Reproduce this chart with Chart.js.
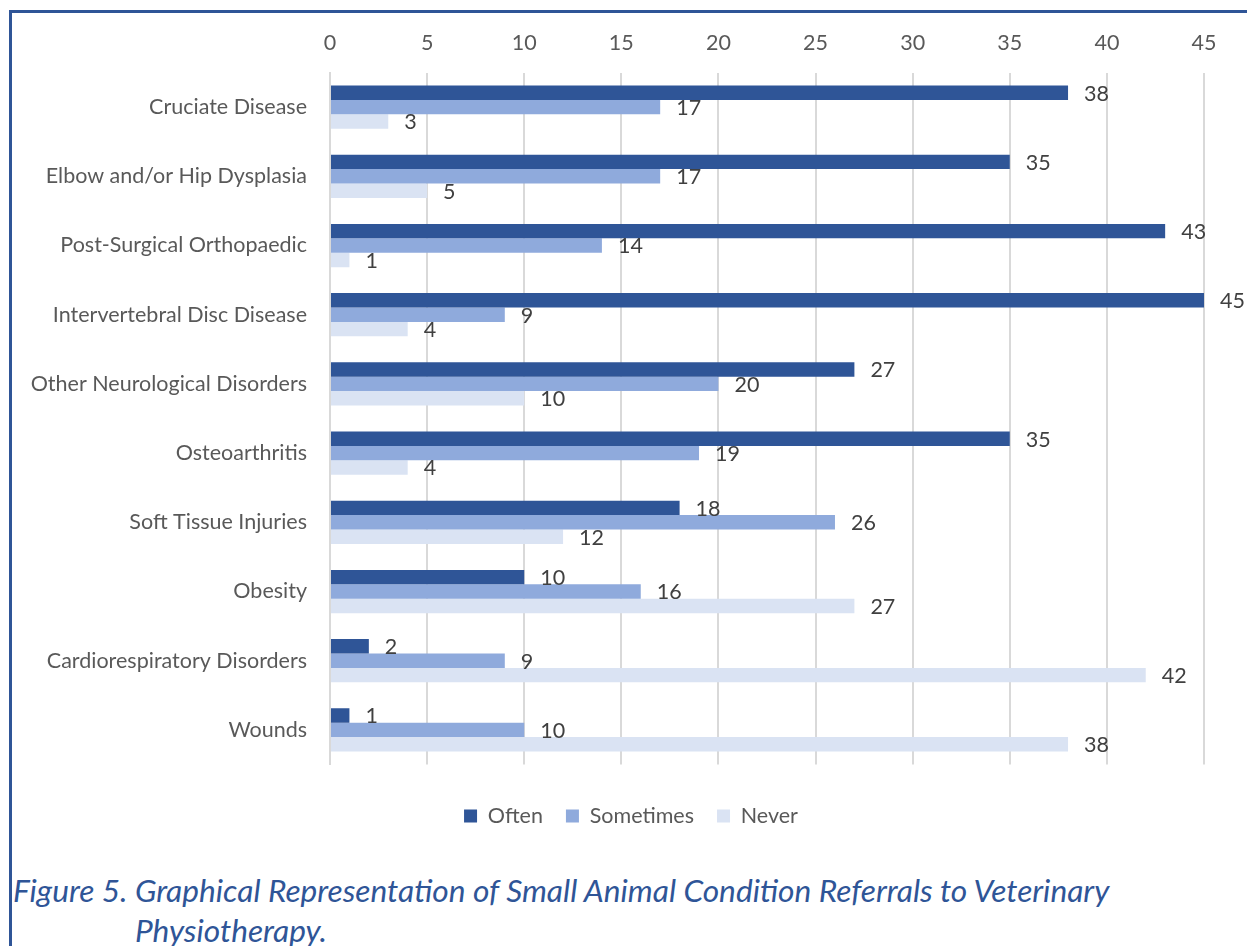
<!DOCTYPE html>
<html><head><meta charset="utf-8">
<script src="https://cdn.jsdelivr.net/npm/chart.js@4/dist/chart.umd.min.js"></script>
<style>
html,body{margin:0;padding:0;background:#fff;}
body{width:1247px;height:946px;position:relative;overflow:hidden;}
#frameTop{position:absolute;left:9px;top:10px;width:1238px;height:3px;background:#2F5597;}
#frameLeft{position:absolute;left:9px;top:10px;width:3px;height:936px;background:#2F5597;}
#wrap{position:absolute;left:0;top:0;width:1247px;height:860px;}
.cap{position:absolute;font-family:Lato,sans-serif;font-style:italic;font-size:30px;color:#2F5597;white-space:nowrap;line-height:34px;transform-origin:0 50%;transform:scaleX(1.055);}
</style></head>
<body>
<div id="wrap"><canvas id="c" width="1247" height="860"></canvas></div>
<div id="frameTop"></div><div id="frameLeft"></div>
<div class="cap" style="left:13px;top:873px;">Figure 5. Graphical Representation of Small Animal Condition Referrals to Veterinary</div>
<div class="cap" style="left:135px;top:913px;">Physiotherapy.</div>
<script>
const categories = ["Cruciate Disease","Elbow and/or Hip Dysplasia","Post-Surgical Orthopaedic","Intervertebral Disc Disease","Other Neurological Disorders","Osteoarthritis","Soft Tissue Injuries","Obesity","Cardiorespiratory Disorders","Wounds"];
const often = [38,35,43,45,27,35,18,10,2,1];
const sometimes = [17,17,14,9,20,19,26,16,9,10];
const never = [3,5,1,4,10,4,12,27,42,38];
const seriesNames = ["Often","Sometimes","Never"];
const xMin = 0, xMax = 45, xStep = 5;

const FS = 21.5;
const labelPlugin = {
  id: 'barLabels',
  afterLayout(chart) {
    // centre the legend over the plot area rather than the whole canvas
    if (chart.legend) { chart.legend.left += 58; }
  },
  afterDatasetsDraw(chart) {
    const ctx = chart.ctx;
    ctx.save();
    ctx.font = FS + 'px Lato, sans-serif';
    ctx.fillStyle = '#404040';
    ctx.textBaseline = 'middle';
    ctx.textAlign = 'left';
    chart.data.datasets.forEach((ds, i) => {
      const meta = chart.getDatasetMeta(i);
      meta.data.forEach((el, j) => {
        ctx.fillText(String(ds.data[j]), el.x + 16, el.y + 1);
      });
    });
    ctx.restore();
  }
};

new Chart(document.getElementById('c'), {
  type: 'bar',
  data: {
    labels: categories,
    datasets: [
      {label: seriesNames[0], data: often, backgroundColor: '#2F5597'},
      {label: seriesNames[1], data: sometimes, backgroundColor: '#8FAADC'},
      {label: seriesNames[2], data: never, backgroundColor: '#DAE3F3'}
    ]
  },
  options: {
    indexAxis: 'y',
    responsive: false,
    animation: false,
    layout: {padding: {left: 0, right: 43, top: 0, bottom: 23.2}},
    datasets: {bar: {categoryPercentage: 0.625, barPercentage: 1.0}},
    scales: {
      x: {
        position: 'top', min: xMin, max: xMax,
        ticks: {stepSize: xStep, color: '#595959', font: {family: 'Lato', size: FS}, padding: 17},
        grid: {color: '#d9d9d9', lineWidth: 2, drawTicks: false},
        border: {display: false},
        afterFit(s) { s.height = 72.5; }
      },
      y: {
        ticks: {color: '#595959', font: {family: 'Lato', size: FS}, padding: 15},
        grid: {display: false},
        border: {display: true, color: '#d9d9d9', width: 2},
        afterFit(s) { s.width = 330; }
      }
    },
    plugins: {
      legend: {
        position: 'bottom',
        title: {display: true, text: '', font: {size: 1, lineHeight: 1}, padding: 8.4},
        labels: {boxWidth: 13, boxHeight: 13, padding: 23, color: '#595959', font: {family: 'Lato', size: FS}}
      },
      tooltip: {enabled: false}
    }
  },
  plugins: [labelPlugin]
});
</script>
</body></html>
